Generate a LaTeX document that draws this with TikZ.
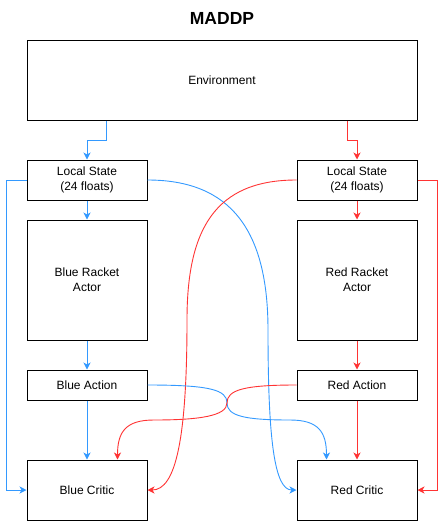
\documentclass[tikz,border=0pt]{standalone}
\usepackage{fontspec}
\setmainfont{Liberation Sans}
\usetikzlibrary{arrows.meta}
\definecolor{bluec}{RGB}{51,153,255}
\definecolor{redc}{RGB}{255,51,51}
\begin{document}
\begin{tikzpicture}[x=1pt,y=-1pt,font=\fontsize{12}{15}\selectfont]
	\tikzstyle{box}=[rectangle, draw, line width=1pt, inner sep=0pt, align=center, minimum width=120pt]
	\tikzstyle{bluearr}=[draw=bluec, line width=0.9pt, -{Stealth[length=7pt,width=7pt,inset=2pt]}]
	\tikzstyle{redarr}=[draw=redc, line width=0.9pt, -{Stealth[length=7pt,width=7pt,inset=2pt]}]
	\useasboundingbox (0,0) rectangle (446,522);
	\node [font=\fontsize{17.5}{20}\selectfont\bfseries] (title) at (222,18) {MADDP};
	\node [box, minimum width=390pt, minimum height=80pt] (env) at (222,80) {Environment};
	\node [box, minimum height=40pt] (bls) at (87,180) {Local State\\(24 floats)};
	\node [box, minimum height=40pt] (rls) at (357,180) {Local State\\(24 floats)};
	\node [box, minimum height=120pt] (bactor) at (87,280) {Blue Racket\\Actor};
	\node [box, minimum height=120pt] (ractor) at (357,280) {Red Racket\\Actor};
	\node [box, minimum height=30pt] (bact) at (87,385) {Blue Action};
	\node [box, minimum height=30pt] (ract) at (357,385) {Red Action};
	\node [box, minimum height=60pt] (bcrit) at (87,490) {Blue Critic};
	\node [box, minimum height=60pt] (rcrit) at (357,490) {Red Critic};
	\coordinate (bmid) at (268,330);
	\coordinate (rmid) at (187,320);
	\coordinate (xmid) at (227,403);
	\coordinate (bway) at (290,420);
	\coordinate (rway) at (154,420);
	\draw [bluearr] ([xshift=80]env.south west) -- ++(0,20) -| (bls.north);
	\draw [redarr] ([xshift=-70]env.south east) -- ++(0,20) -| (rls.north);
	\draw [bluearr] (bls) -- (bactor);
	\draw [redarr] (rls) -- (ractor);
	\draw [bluearr] (bactor) -- (bact);
	\draw [redarr] (ractor) -- (ract);
	\draw [bluearr] (bact) -- (bcrit);
	\draw [redarr] (ract) -- (rcrit);
	\draw [bluearr] (bls.west) -- ++(-20,0) |- (bcrit.west);
	\draw [redarr] (rls.east) -- ++(20,0) |- (rcrit.east);
	\draw [bluearr] (bls.east) .. controls +(83,0) and +(0,-100) .. (bmid) .. controls +(0,110) and +(-22,0) .. (rcrit.west);
	\draw [redarr] (rls.west) .. controls +(-82,0) and +(0,-90) .. (rmid) .. controls +(0,120) and +(28,0) .. (bcrit.east);
	\draw [bluearr] (bact.east) .. controls +(63,0) and +(0,-13) .. (xmid) .. controls +(0,13) and +(-45,0) .. (bway) .. controls +(28,0) and +(0,-28) .. ([xshift=30]rcrit.north west);
	\draw [redarr] (ract.west) .. controls +(-53,0) and +(0,-13) .. (xmid) .. controls +(0,13) and +(45,0) .. (rway) .. controls +(-28,0) and +(0,-28) .. ([xshift=-30]bcrit.north east);
\end{tikzpicture}
\end{document}
